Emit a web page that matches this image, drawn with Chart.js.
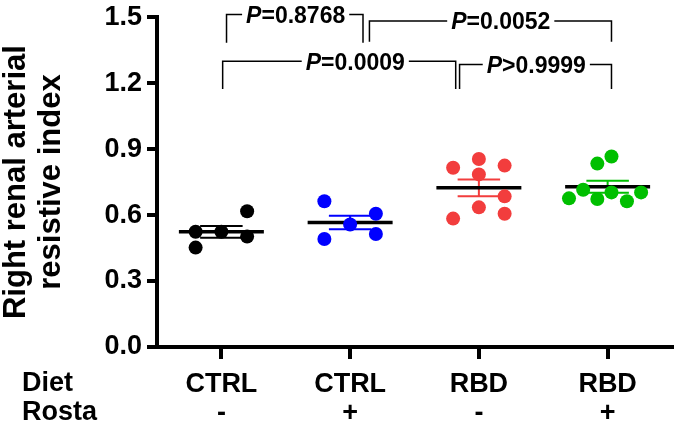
<!DOCTYPE html>
<html>
<head>
<meta charset="utf-8">
<script src="https://cdn.jsdelivr.net/npm/chart.js@4.4.1/dist/chart.umd.min.js"></script>
<style>
    body { margin: 0; background: #fff; }
    canvas { display: block; }
</style>
</head>
<body>
<canvas id="ri-chart" width="679" height="427"></canvas>
<script>
// x axis rows
const dietLabels = ["CTRL", "CTRL", "RBD", "RBD"];
const rostaLabels = ["-", "+", "-", "+"];
const rowNames = ["Diet", "Rosta"];

// y axis
const yTicks = [0.0, 0.3, 0.6, 0.9, 1.2, 1.5];

// right renal arterial RI for each animal, + the column the dot is put in
const ctrlMinus = [0.524, 0.452, 0.524, 0.617, 0.502];
const ctrlMinusCol = [-0.2, -0.2, 0, 0.2, 0.2];
const ctrlPlus = [0.663, 0.491, 0.557, 0.606, 0.514];
const ctrlPlusCol = [-0.2, -0.2, 0, 0.2, 0.2];
const rbdMinus = [0.815, 0.584, 0.855, 0.785, 0.635, 0.825, 0.685, 0.606];
const rbdMinusCol = [-0.2, -0.2, 0, 0, 0, 0.2, 0.2, 0.2];
const rbdPlus = [0.676, 0.715, 0.834, 0.673, 0.866, 0.703, 0.663, 0.703];
const rbdPlusCol = [-0.3, -0.19, -0.08, -0.08, 0.03, 0.03, 0.15, 0.26];

// comparisons
const pSigns = ["=", "=", "=", ">"];
const pValues = ["0.8768", "0.0052", "0.0009", "0.9999"];

const groupColors = ["#000000", "#0000FF", "#F23D3D", "#00BF00"];
const groupValues = [ctrlMinus, ctrlPlus, rbdMinus, rbdPlus];
const groupCols = [ctrlMinusCol, ctrlPlusCol, rbdMinusCol, rbdPlusCol];

// bracket geometry (x in group units, y in RI units)
const bracketFrom = [1.04, 2.15, 1.01, 2.85];
const bracketTo = [2.10, 4.03, 2.82, 4.03];
const bracketTop = [1.512, 1.482, 1.299, 1.285];
const bracketEnd = [1.384, 1.388, 1.173, 1.173];
const bracketTextX = [1.577, 3.17, 2.04, 3.446];

const FONT = "'Liberation Sans', Arial, sans-serif";
const X_TICK_LEN = 12;
const X_TICK_PAD = 11;
const X_LINE_H = 29;

const datasets = groupValues.map(function (vals, g) {
    return {
        data: vals.map(function (v, i) {
            return { x: g + 1 + groupCols[g][i], y: v };
        }),
        backgroundColor: groupColors[g],
        borderColor: groupColors[g],
        borderWidth: 0,
        pointRadius: 7
    };
});

// mean + SEM lines
const meanSemPlugin = {
    id: "meanSem",
    beforeDatasetsDraw(chart) {
        const ctx = chart.ctx;
        const xs = chart.scales.x;
        const ys = chart.scales.y;
        groupValues.forEach(function (vals, g) {
            const n = vals.length;
            const mean = vals.reduce((a, b) => a + b, 0) / n;
            const sd = Math.sqrt(vals.reduce((a, b) => a + (b - mean) * (b - mean), 0) / (n - 1));
            const sem = sd / Math.sqrt(n);
            const cx = xs.getPixelForValue(g + 1);
            const capL = xs.getPixelForValue(g + 1 - 0.165);
            const capR = xs.getPixelForValue(g + 1 + 0.165);
            const hi = ys.getPixelForValue(mean + sem);
            const lo = ys.getPixelForValue(mean - sem);
            ctx.save();
            ctx.strokeStyle = groupColors[g];
            ctx.lineWidth = 2;
            ctx.beginPath();
            ctx.moveTo(cx, hi); ctx.lineTo(cx, lo);
            ctx.moveTo(capL, hi); ctx.lineTo(capR, hi);
            ctx.moveTo(capL, lo); ctx.lineTo(capR, lo);
            ctx.stroke();
            ctx.strokeStyle = "#000";
            ctx.lineWidth = 3.5;
            ctx.beginPath();
            const my = ys.getPixelForValue(mean);
            ctx.moveTo(xs.getPixelForValue(g + 1 - 0.33), my);
            ctx.lineTo(xs.getPixelForValue(g + 1 + 0.33), my);
            ctx.stroke();
            ctx.restore();
        });
    }
};

// P value brackets + Diet / Rosta row names
const annotPlugin = {
    id: "annot",
    afterDraw(chart) {
        const ctx = chart.ctx;
        const xs = chart.scales.x;
        const ys = chart.scales.y;
        ctx.save();
        ctx.fillStyle = "#000";
        ctx.strokeStyle = "#000";
        ctx.lineWidth = 1.5;
        ctx.textBaseline = "middle";
        for (let i = 0; i < pValues.length; i++) {
            const x1 = xs.getPixelForValue(bracketFrom[i]);
            const x2 = xs.getPixelForValue(bracketTo[i]);
            const yt = ys.getPixelForValue(bracketTop[i]);
            const ye = ys.getPixelForValue(bracketEnd[i]);
            const tx = xs.getPixelForValue(bracketTextX[i]);
            const italic = "italic bold 23px " + FONT;
            const bold = "bold 23px " + FONT;
            ctx.font = italic;
            const wP = ctx.measureText("P").width;
            ctx.font = bold;
            const rest = pSigns[i] + pValues[i];
            const wR = ctx.measureText(rest).width;
            const left = tx - (wP + wR) / 2;
            const right = left + wP + wR;
            ctx.beginPath();
            ctx.moveTo(x1, ye); ctx.lineTo(x1, yt); ctx.lineTo(left - 4, yt);
            ctx.moveTo(right + 4, yt); ctx.lineTo(x2, yt); ctx.lineTo(x2, ye);
            ctx.stroke();
            ctx.textAlign = "left";
            ctx.font = italic;
            ctx.fillText("P", left, yt + 2);
            ctx.font = bold;
            ctx.fillText(rest, left + wP, yt + 2);
        }
        ctx.font = "bold 27px " + FONT;
        ctx.textAlign = "left";
        ctx.textBaseline = "middle";
        const y0 = xs.top + X_TICK_LEN + X_TICK_PAD + 14;
        rowNames.forEach(function (name, k) {
            ctx.fillText(name, 22, y0 + k * X_LINE_H);
        });
        ctx.restore();
    }
};

const riChart = new Chart(document.getElementById("ri-chart"), {
    type: "scatter",
    data: { datasets: datasets },
    options: {
        responsive: false,
        animation: false,
        events: [],
        layout: { padding: { left: 0, right: 2, top: 12, bottom: 0 } },
        plugins: { legend: { display: false }, tooltip: { enabled: false } },
        scales: {
            x: {
                type: "linear",
                min: 0.5,
                max: 4.5,
                afterBuildTicks: function (scale) {
                    scale.ticks = dietLabels.map((d, i) => ({ value: i + 1 }));
                },
                afterFit: function (scale) { scale.height = 80; },
                border: { display: true, width: 4, color: "#000" },
                grid: { drawOnChartArea: false, drawTicks: true, tickLength: X_TICK_LEN, tickWidth: 4, tickColor: "#000", color: "#000", lineWidth: 4 },
                ticks: {
                    color: "#000",
                    padding: X_TICK_PAD,
                    maxRotation: 0,
                    autoSkip: false,
                    font: { family: FONT, size: 27, weight: "bold", lineHeight: X_LINE_H / 27 },
                    callback: function (v) {
                        const i = Math.round(v) - 1;
                        return [dietLabels[i], rostaLabels[i]];
                    }
                }
            },
            y: {
                min: yTicks[0],
                max: yTicks[yTicks.length - 1],
                afterBuildTicks: function (scale) {
                    scale.ticks = yTicks.map(v => ({ value: v }));
                },
                afterFit: function (scale) { scale.width = 157; },
                border: { display: true, width: 4, color: "#000" },
                grid: { drawOnChartArea: false, drawTicks: true, tickLength: 10, tickWidth: 4, tickColor: "#000", color: "#000", lineWidth: 4 },
                ticks: {
                    color: "#000",
                    padding: 5,
                    font: { family: FONT, size: 27, weight: "bold", lineHeight: 0.9 },
                    callback: v => v.toFixed(1)
                },
                title: {
                    display: true,
                    text: ["Right renal arterial", "resistive index"],
                    color: "#000",
                    padding: { top: -1, bottom: 0 },
                    font: { family: FONT, size: 31, weight: "bold", lineHeight: 1.13 }
                }
            }
        }
    },
    plugins: [meanSemPlugin, annotPlugin]
});
</script>
</body>
</html>
